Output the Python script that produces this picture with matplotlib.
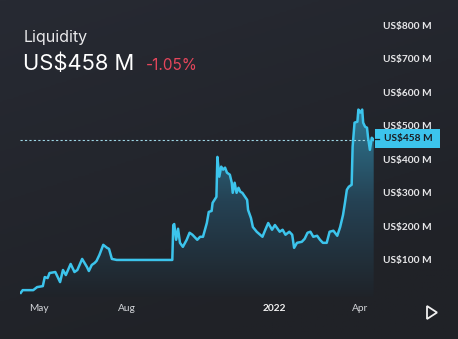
import matplotlib
matplotlib.use("Agg")
import matplotlib.pyplot as plt
import matplotlib.dates as mdates
from matplotlib.colors import LinearSegmentedColormap
from matplotlib.patches import Polygon, Rectangle
import numpy as np
import pandas as pd

# ---------------- data ----------------
dates = ["2021-04-12", "2021-04-14", "2021-04-25", "2021-04-29", "2021-05-05", "2021-05-07",
         "2021-05-10", "2021-05-12", "2021-05-18", "2021-05-23", "2021-05-26", "2021-05-29",
         "2021-06-03", "2021-06-07", "2021-06-10", "2021-06-15", "2021-06-20", "2021-06-22",
         "2021-06-25", "2021-06-28", "2021-06-30", "2021-07-03", "2021-07-07", "2021-07-11",
         "2021-07-13", "2021-07-16", "2021-07-21", "2021-09-17", "2021-09-18", "2021-09-19",
         "2021-09-21", "2021-09-23", "2021-09-25", "2021-09-28", "2021-10-02", "2021-10-05",
         "2021-10-08", "2021-10-13", "2021-10-16", "2021-10-19", "2021-10-23", "2021-10-25",
         "2021-10-28", "2021-10-29", "2021-11-02", "2021-11-03", "2021-11-05", "2021-11-07",
         "2021-11-09", "2021-11-11", "2021-11-13", "2021-11-16", "2021-11-18", "2021-11-19",
         "2021-11-21", "2021-11-23", "2021-11-25", "2021-11-27", "2021-11-29", "2021-12-04",
         "2021-12-05", "2021-12-08", "2021-12-10", "2021-12-14", "2021-12-20", "2021-12-23",
         "2021-12-26", "2021-12-30", "2022-01-02", "2022-01-07", "2022-01-10", "2022-01-13",
         "2022-01-17", "2022-01-20", "2022-01-22", "2022-01-25", "2022-01-30", "2022-02-02",
         "2022-02-05", "2022-02-08", "2022-02-11", "2022-02-15", "2022-02-18", "2022-02-21",
         "2022-02-25", "2022-02-28", "2022-03-04", "2022-03-08", "2022-03-11", "2022-03-14",
         "2022-03-16", "2022-03-18", "2022-03-20", "2022-03-23", "2022-03-24", "2022-03-26",
         "2022-03-29", "2022-03-30", "2022-04-01", "2022-04-03", "2022-04-04", "2022-04-06",
         "2022-04-08", "2022-04-09", "2022-04-11", "2022-04-13", "2022-04-15"]
liquidity_musd = [2, 10, 10, 19, 22, 49,
                  46, 61, 64, 34, 70, 55,
                  88, 64, 70, 103, 79, 67,
                  85, 91, 97, 115, 145, 136,
                  133, 103, 100, 100, 204, 207,
                  160, 193, 151, 139, 160, 181,
                  175, 160, 169, 169, 210, 243,
                  246, 270, 288, 407, 348, 378,
                  369, 375, 360, 354, 330, 300,
                  330, 300, 315, 303, 300, 279,
                  249, 225, 198, 184, 169, 190,
                  210, 190, 204, 184, 190, 175,
                  184, 175, 136, 151, 154, 163,
                  181, 184, 169, 172, 160, 151,
                  151, 184, 187, 172, 198, 234,
                  270, 309, 318, 324, 437, 509,
                  512, 548, 539, 548, 509, 497,
                  494, 467, 428, 464, 458]
current_value = 458
change_pct = -1.05
y_ticks = [100, 200, 300, 400, 500, 600, 700, 800]
x_tick_dates = ["2021-05-01", "2021-08-01", "2022-01-01", "2022-04-01"]
x_tick_labels = ["May", "Aug", "2022", "Apr"]
title = "Liquidity"

# ---------------- style ----------------
BG = "#212329"
LINE = "#3cc4ec"
W, H = 458, 339
fig = plt.figure(figsize=(W / 100, H / 100), dpi=100)
fig.patch.set_facecolor(BG)

# background gradient
bgax = fig.add_axes([0, 0, 1, 1], zorder=-10)
bgax.set_axis_off()
yy, xx = np.mgrid[0:1:200j, 0:1:200j]
g = np.clip(1 - (0.7 * yy + 0.3 * xx) * 1.2, 0, 1)
bg_cmap = LinearSegmentedColormap.from_list("bg", ["#202227", "#272a33"])
bgax.imshow(g, cmap=bg_cmap, extent=[0, 1, 0, 1], aspect="auto", origin="upper", vmin=0, vmax=1)

# main axes
ymin, ymax = -10, 850
px_per_unit = (293.5 - 25) / 800.0
bottom_px = 293.5 - ymin * px_per_unit
top_px = 293.5 - ymax * px_per_unit
left_px, right_px = 20, 374
ax = fig.add_axes([left_px / W, (H - bottom_px) / H, (right_px - left_px) / W, (bottom_px - top_px) / H])
ax.set_facecolor("none")
for s in ax.spines.values():
    s.set_visible(False)

x = pd.to_datetime(dates)
y = np.array(liquidity_musd, dtype=float)
xn = mdates.date2num(x)

# gradient fill
fill_cmap = LinearSegmentedColormap.from_list("fill", ["#1f2329", "#254254", "#2f7b96"])
grad = np.linspace(1, 0, 256).reshape(-1, 1)
im = ax.imshow(grad, cmap=fill_cmap, aspect="auto",
               extent=[xn[0], xn[-1], ymin, 560], origin="upper", zorder=1, vmin=0, vmax=1)
verts = np.vstack([np.column_stack([xn, y]), [[xn[-1], ymin], [xn[0], ymin]]])
clip = Polygon(verts, closed=True, transform=ax.transData, facecolor="none", edgecolor="none")
ax.add_patch(clip)
im.set_clip_path(clip)

ax.plot(x, y, color=LINE, lw=1.8, solid_joinstyle="round", zorder=3)

# dashed current value line
ax.axhline(current_value, color="#9fd7e6", lw=0.8, ls=(0, (2, 2)), zorder=2)

ax.set_xlim(xn[0] - 0.8, xn[-1] + 0.3)
ax.set_ylim(ymin, ymax)

# y ticks on the right
ax.yaxis.tick_right()
ax.set_yticks(y_ticks)
ax.set_yticklabels([f"US${v} M" for v in y_ticks], fontfamily="Lato", fontweight="bold",
                   fontsize=7.3, color="#e8e8ea", ha="left")
ax.tick_params(axis="y", length=0, pad=6.5)

# x ticks
ax.set_xticks(pd.to_datetime(x_tick_dates))
ax.set_xticklabels(x_tick_labels, fontfamily="Lato", fontsize=7.3, color="#d4d6da")
ax.tick_params(axis="x", length=0, pad=5.5)
for lbl in ax.get_xticklabels():
    if lbl.get_text() == "2022":
        lbl.set_fontweight("bold")
        lbl.set_color("#f2f2f2")

# current value badge
def fx(px):
    return px / W

def fy(py):
    return 1 - py / H

fig.patches.append(Rectangle((fx(375), fy(148)), (440 - 375) / W, 19 / H, transform=fig.transFigure,
                             facecolor=LINE, edgecolor="none", zorder=5))
fig.lines.append(plt.Line2D([fx(375), fx(379)], [fy(139), fy(139)], transform=fig.transFigure,
                            color="#1b1d22", lw=0.9, zorder=6))
fig.text(fx(384), fy(139), f"US${current_value} M", fontfamily="Lato", fontweight="bold",
         fontsize=7.3, color="#1b1d22", va="center", ha="left", zorder=7)

# header texts
fig.text(fx(24), fy(42), title, fontfamily="Inter", fontsize=11.5, color="#e9e9eb",
         va="baseline", ha="left")
fig.text(fx(23), fy(70), f"US${current_value} M", fontfamily="Inter", fontsize=15.8,
         color="#ffffff", va="baseline", ha="left")
fig.text(fx(146), fy(70), f"{change_pct:.2f}%", fontfamily="Inter", fontsize=11,
         color="#e5465b", va="baseline", ha="left")

# play icon
tri = Polygon([[fx(427), fy(306)], [fx(427), fy(319)], [fx(437), fy(312.5)]], closed=True,
              transform=fig.transFigure, facecolor="none", edgecolor="#f0f0f0", lw=1.3, zorder=5)
fig.patches.append(tri)

fig.savefig("out.png", dpi=100, facecolor=fig.get_facecolor())
